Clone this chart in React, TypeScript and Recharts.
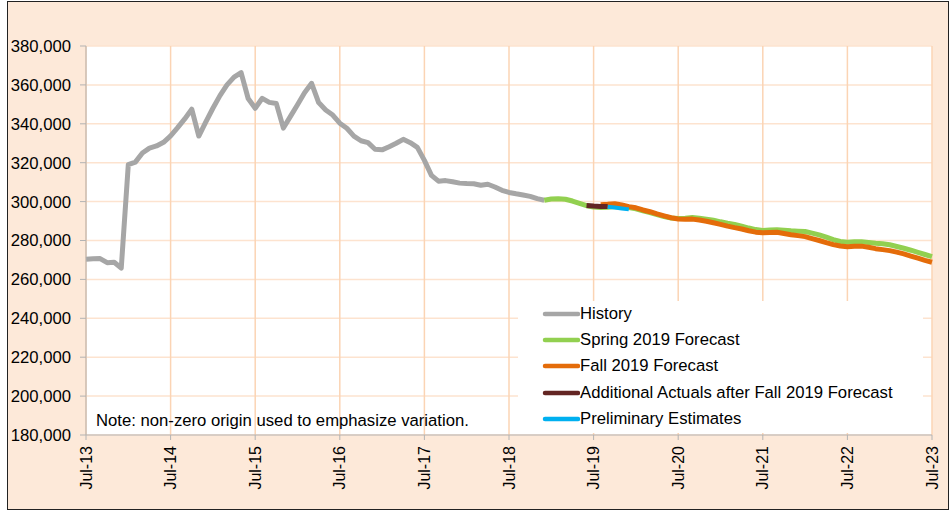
import {
  LineChart,
  Line,
  XAxis,
  YAxis,
  CartesianGrid,
  Legend,
} from "recharts";

// Jul-13 .. Jul-23, one tick per July
const yearLabels = [
  "Jul-13", "Jul-14", "Jul-15", "Jul-16", "Jul-17", "Jul-18",
  "Jul-19", "Jul-20", "Jul-21", "Jul-22", "Jul-23",
];
const yTicks = [180000, 200000, 220000, 240000, 260000, 280000, 300000, 320000, 340000, 360000, 380000];

// monthly values, month 0 = Jul-13
const historyStart = 0;
const history = [
  270300, 270600, 270700, 268600, 268800, 265800, 319000, 320300, 325000, 327500,
  328600, 330500, 333800, 338000, 342500, 347500, 333700, 341000, 348000, 354500,
  360000, 364000, 366300, 353000, 348000, 353100, 351000, 350400, 337800, 343800,
  349800, 356000, 360800, 350900, 347100, 344500, 340300, 337700, 333700, 331300,
  330300, 326900, 326600, 328200, 330000, 332000, 330300, 327900, 321200, 313500,
  310500, 310800, 310200, 309500, 309300, 309200, 308400, 308900, 307500, 305800,
  304700, 304000, 303400, 302700, 301500, 300700,
];

const springStart = 65;
const spring = [
  300700, 301300, 301500, 301200, 300300, 299100, 297900, 297200, 297000, 297100,
  297500, 297400, 297000, 296300, 295300, 294400, 293300, 292300, 291600, 291300,
  291500, 291800, 291500, 291000, 290400, 289600, 288900, 288300, 287400, 286400,
  285600, 285200, 285400, 285500, 285300, 285000, 284800, 284600, 283800, 282900,
  281700, 280400, 279500, 279100, 279300, 279400, 279000, 278600, 278300, 277800,
  276900, 276000, 275000, 273900, 272800, 271700,
];

const fallStart = 73;
const fall = [
  298400, 298600, 298900, 298300, 297400, 296800, 295700, 294800, 293700, 292700,
  291700, 291100, 290900, 291000, 290500, 289900, 289100, 288300, 287400, 286600,
  285900, 285000, 284300, 284000, 284100, 284200, 283600, 283000, 282500, 282000,
  281000, 280000, 278900, 277900, 277200, 276800, 277000, 277100, 276500, 275800,
  275300, 274800, 274000, 273100, 272000, 270900, 269800, 268800,
];

const actualsStart = 71;
const actuals = [298000, 297700, 297500, 297500];

const prelimStart = 74;
const prelim = [297400, 297000, 296500, 296000];

const series = [
  { key: "history", name: "History", color: "#A6A6A6", values: history, start: historyStart, width: 5 },
  { key: "spring", name: "Spring 2019 Forecast", color: "#92D050", values: spring, start: springStart, width: 5 },
  { key: "fall", name: "Fall 2019 Forecast", color: "#E46C0A", values: fall, start: fallStart, width: 5 },
  { key: "actuals", name: "Additional Actuals after Fall 2019 Forecast", color: "#632523", values: actuals, start: actualsStart, width: 5 },
  { key: "prelim", name: "Preliminary Estimates", color: "#00B0F0", values: prelim, start: prelimStart, width: 4 },
];

const monthCount = (yearLabels.length - 1) * 12;
const xTicks = yearLabels.map((_, k) => k * 12);

const data = Array.from({ length: monthCount + 1 }, (_, m) => {
  const row: any = { m };
  series.forEach((s) => {
    const idx = m - s.start;
    row[s.key] = idx >= 0 && idx < s.values.length ? s.values[idx] : null;
  });
  return row;
});

const FONT = '"Liberation Sans", Arial, sans-serif';
const FONT_SIZE = 16.7;
const AXIS_GRAY = "#B3B3B3";

function XTick({ x, y, payload }: any) {
  const label = yearLabels[Math.round(payload.value / 12)];
  return (
    <text
      x={x}
      y={y + 4}
      dy={5.5}
      transform={`rotate(-90, ${x}, ${y + 4})`}
      textAnchor="end"
      fontSize={16}
      fontFamily={FONT}
      fill="#000"
    >
      {label}
    </text>
  );
}

function LegendBox() {
  return (
    <div
      style={{
        background: "#fff",
        width: 405,
        height: 132,
        fontFamily: FONT,
        fontSize: FONT_SIZE,
        color: "#000",
        boxSizing: "border-box",
      }}
    >
      {series.map((s) => (
        <div
          key={s.key}
          style={{ display: "flex", alignItems: "center", height: 26.2 }}
        >
          <svg width={62} height={10} style={{ flex: "none" }}>
            <line
              x1={27}
              y1={5}
              x2={60}
              y2={5}
              stroke={s.color}
              strokeWidth={4.5}
              strokeLinecap="round"
            />
          </svg>
          <span>{s.name}</span>
        </div>
      ))}
    </div>
  );
}

export default function App() {
  return (
    <div style={{ position: "absolute", left: 0, top: 0, width: 950, height: 511, background: "#fff" }}>
      <div
        style={{
          position: "absolute",
          left: 7,
          top: 1,
          width: 940,
          height: 507,
          border: "1px solid #222",
          background: "#FDE9D9",
        }}
      />
      <div style={{ position: "absolute", left: 0, top: 0 }}>
        <LineChart
          width={950}
          height={511}
          data={data}
          margin={{ top: 46, right: 18, bottom: 16, left: 0 }}
        >
          <CartesianGrid vertical={false} stroke="#FDE3CF" strokeWidth={1.5} fill="#fff" />
          <CartesianGrid horizontal={false} stroke="#FBD4B4" strokeWidth={1.5} />
          <XAxis
            dataKey="m"
            type="number"
            domain={[0, monthCount]}
            ticks={xTicks}
            tick={<XTick />}
            tickSize={5}
            height={60}
            stroke={AXIS_GRAY}
            interval={0}
          />
          <YAxis
            domain={[180000, 380000]}
            ticks={yTicks}
            width={86}
            tickSize={6}
            tickMargin={9}
            stroke={AXIS_GRAY}
            tick={{ fill: "#000", fontSize: FONT_SIZE, fontFamily: FONT }}
            tickFormatter={(v: number) => v.toLocaleString("en-US")}
            interval={0}
          />
          {series.map((s) => (
            <Line
              key={s.key}
              dataKey={s.key}
              name={s.name}
              stroke={s.color}
              strokeWidth={s.width}
              strokeLinejoin="round"
              dot={false}
              activeDot={false}
              isAnimationActive={false}
              type="linear"
            />
          ))}
          <Legend
            layout="vertical"
            align="center"
            verticalAlign="middle"
            content={<LegendBox />}
            wrapperStyle={{ position: "absolute", left: 518, top: 301, width: 405, height: 132 }}
          />
        </LineChart>
      </div>
      <div
        style={{
          position: "absolute",
          left: 96,
          top: 411,
          fontFamily: FONT,
          fontSize: FONT_SIZE,
          color: "#000",
          whiteSpace: "nowrap",
        }}
      >
        Note: non-zero origin used to emphasize variation.
      </div>
    </div>
  );
}
